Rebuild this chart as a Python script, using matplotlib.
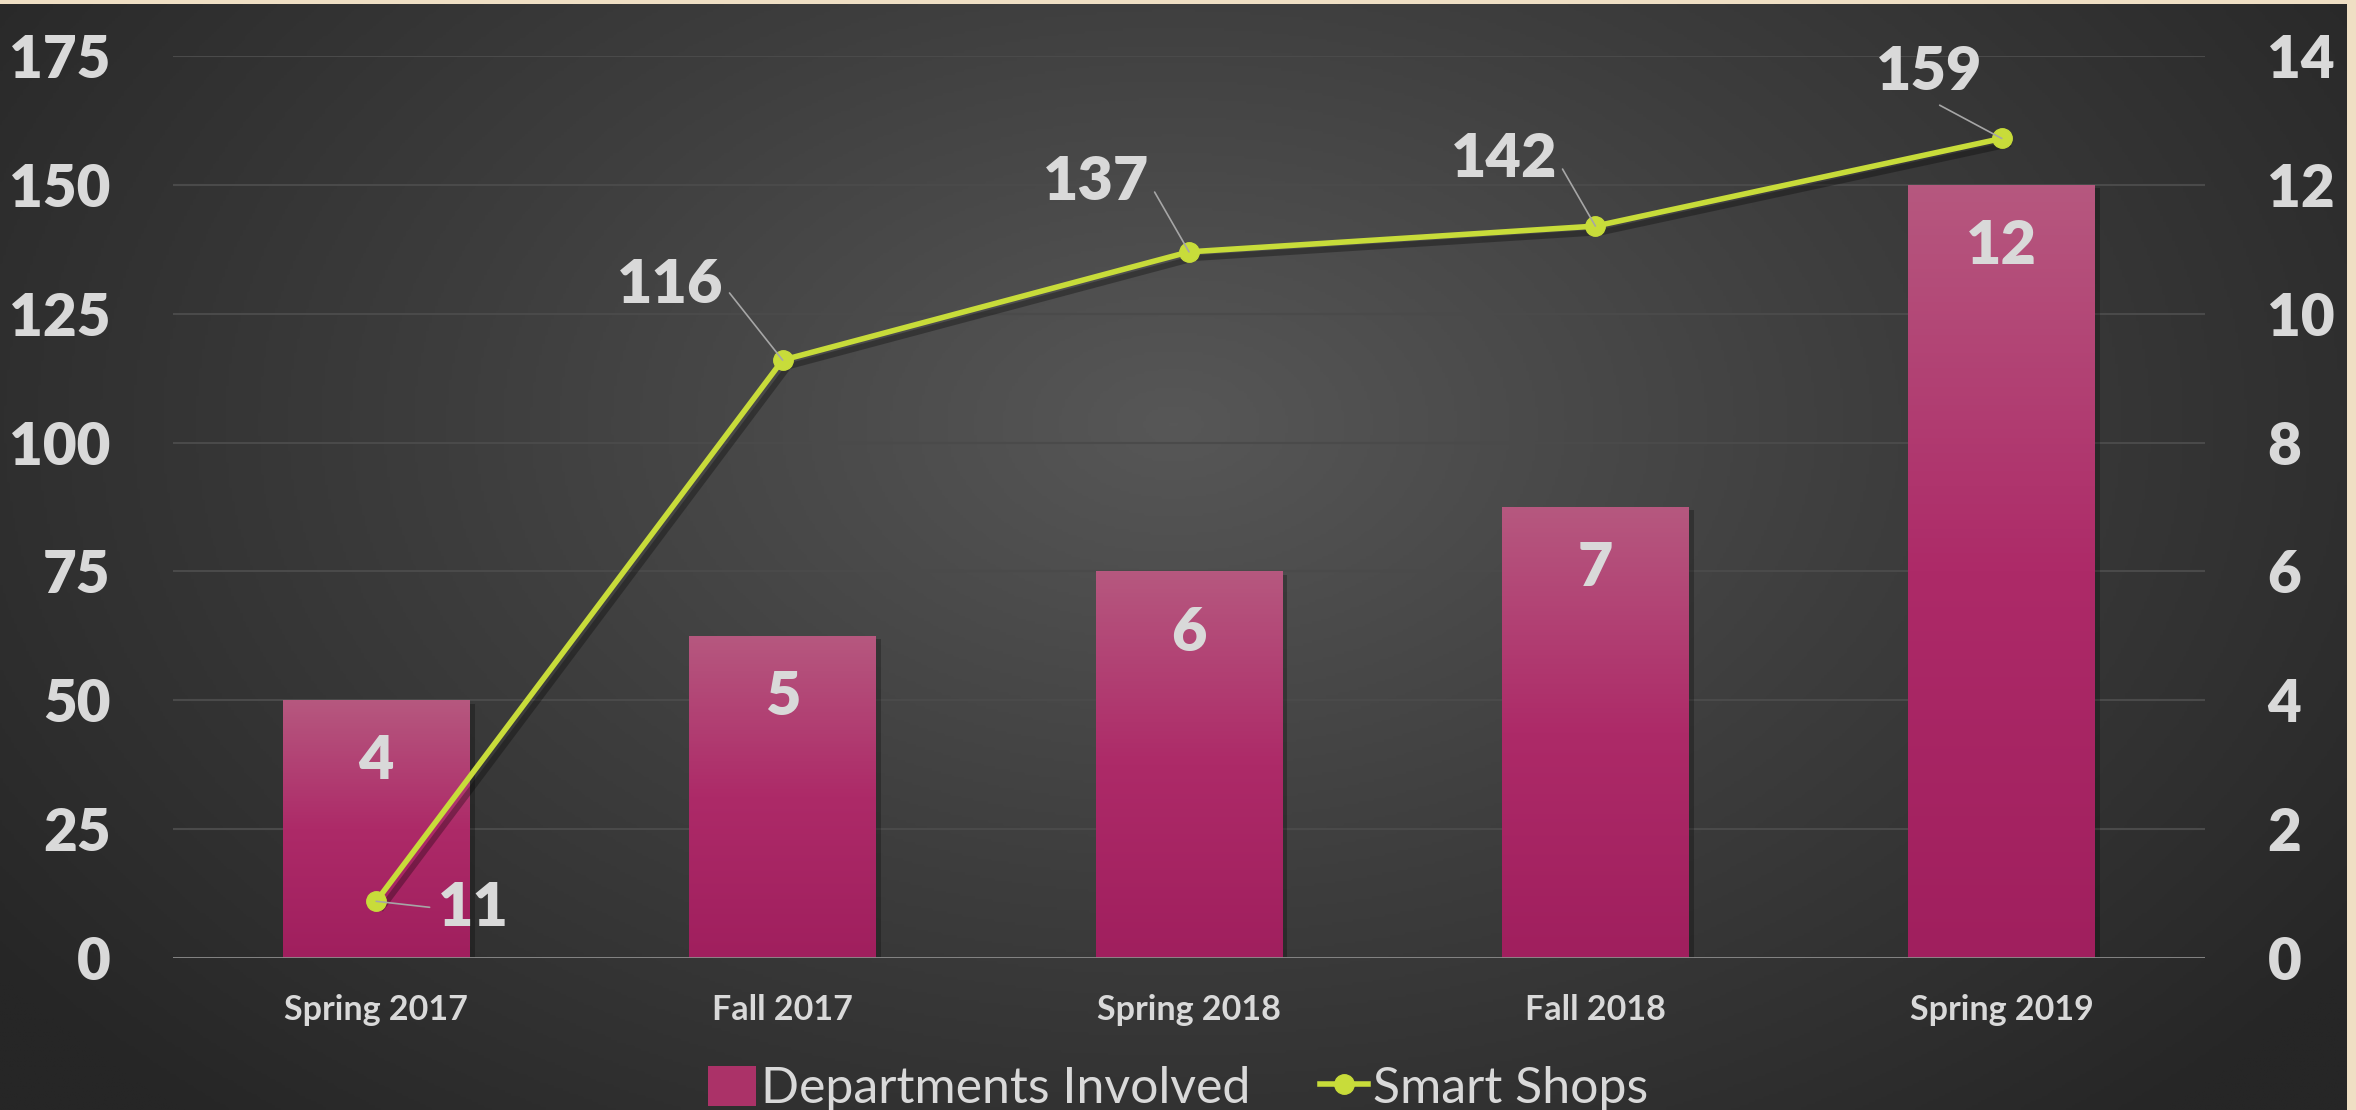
import numpy as np
import matplotlib
matplotlib.use("Agg")
import matplotlib.pyplot as plt
from matplotlib.patches import Rectangle
from matplotlib.colors import LinearSegmentedColormap

plt.rcParams['font.family'] = ['Lato', 'DejaVu Sans']

categories = ["Spring 2017", "Fall 2017", "Spring 2018", "Fall 2018", "Spring 2019"]
departments = [4, 5, 6, 7, 12]
smart_shops = [11, 116, 137, 142, 159]
left_ticks = [0, 25, 50, 75, 100, 125, 150, 175]
right_ticks = [0, 2, 4, 6, 8, 10, 12, 14]

W, H = 2356, 1110
fig = plt.figure(figsize=(W / 100, H / 100), dpi=100, facecolor="#efdfc4")

# background with radial gradient
bg = fig.add_axes([0, 0, 2347 / W, 1106 / H], zorder=-10)
bg.set_axis_off()
yy, xx = np.mgrid[0:1:400j, 0:1:800j]
r = np.sqrt(((xx - 0.5) / 0.62) ** 2 + ((yy - 0.62) / 0.85) ** 2)
r = np.clip(r, 0, 1)
cmap_bg = LinearSegmentedColormap.from_list("bg", ["#575757", "#3d3d3d", "#262626"])
bg.imshow(r, cmap=cmap_bg, aspect="auto", extent=[0, 1, 0, 1], origin="lower", vmin=0, vmax=1)
bg.set_xlim(0, 1); bg.set_ylim(0, 1)

ax = fig.add_axes([173 / W, (H - 958) / H, (2205 - 173) / W, (958 - 56) / H])
ax.patch.set_alpha(0)
x = np.arange(len(categories))
txt = "#d9d9d9"
heavy = "heavy"

# gridlines behind bars (right scale positions match left scale)
for t in right_ticks[1:]:
    ax.axhline(t, color="#4a4a4a", lw=1.5, zorder=0)

# bars on right scale
bar_w = 0.46
bars = ax.bar(x, departments, width=bar_w, color="#ab3268", zorder=3,
              label="Departments Involved")
grad_cmap = LinearSegmentedColormap.from_list("bar", ["#a01f5e", "#ad2a68", "#b6587f"])
grad = np.linspace(0, 1, 256).reshape(-1, 1)
for b in bars:
    x0, y0 = b.get_x(), b.get_y()
    w, h = b.get_width(), b.get_height()
    ax.add_patch(Rectangle((x0 + 0.012, y0), w, h - 0.05, color="black", alpha=0.25, zorder=2, lw=0))
    im = ax.imshow(grad, cmap=grad_cmap, aspect="auto", extent=[x0, x0 + w, y0, y0 + h],
                   origin="lower", zorder=3.5)
    im.set_clip_path(b)
    ax.annotate(str(int(h)), (x0 + w / 2, y0 + h), xytext=(0, -44), textcoords="offset points",
                ha="center", va="center", fontsize=44, fontweight=heavy, color=txt, zorder=5)

ax.axhline(0, color="#8c8c8c", lw=2, zorder=4)

# line on left scale
ax2 = ax.twinx()
ax2.set_ylim(0, 175)
ax2.set_yticks(left_ticks)
ax2.set_yticklabels([str(t) for t in left_ticks], fontsize=42, fontweight=heavy, color=txt)
ax2.yaxis.tick_left()
ax2.tick_params(axis="y", length=0, pad=45)
for s in ax2.spines.values():
    s.set_visible(False)

ax.set_xlim(-0.5, len(categories) - 0.5)
ax.set_ylim(0, 14)
ax.set_yticks(right_ticks)
ax.set_yticklabels([str(t) for t in right_ticks], fontsize=42, fontweight=heavy, color=txt)
ax.yaxis.tick_right()
ax.set_xticks(x)
ax.set_xticklabels(categories, fontsize=24.5, fontweight="bold", color=txt)
ax.tick_params(axis="x", length=0, pad=26)
ax.tick_params(axis="y", length=0, pad=45)
for s in ax.spines.values():
    s.set_visible(False)

ax2.plot(x + 0.015, np.array(smart_shops) - 1.2, color="black", alpha=0.3, lw=4.2, zorder=3)
ax2.plot(x, smart_shops, color="#c8dc3a", lw=4, marker="o", markersize=14,
         markerfacecolor="#c8dc3a", markeredgecolor="#c8dc3a", zorder=4, label="Smart Shops")

offsets = [(70, -5), (-81, 54), (-67, 50), (-66, 48), (-52, 48)]
rel = [(0, 0.5), (1, 0.5), (1, 0.5), (1, 0.5), (0.5, 0)]
for i, (v, off) in enumerate(zip(smart_shops, offsets)):
    ax2.annotate(str(v), (x[i], v), xytext=off, textcoords="offset points",
                 ha="center", va="center", fontsize=44, fontweight=heavy, color=txt, zorder=6,
                 arrowprops=dict(arrowstyle="-", color="#a6a6a6", lw=1.2, shrinkA=4, shrinkB=0,
                                 relpos=rel[i]))

h1, l1 = ax.get_legend_handles_labels()
h2, l2 = ax2.get_legend_handles_labels()
leg = fig.legend(h1 + h2, l1 + l2, loc="center", bbox_to_anchor=(0.5, 0.019), ncol=2,
                 frameon=False, fontsize=36, handlelength=0.95, handleheight=0.85,
                 handletextpad=0.1, columnspacing=1.4, labelcolor=txt)

fig.savefig("out.png", dpi=100, facecolor=fig.get_facecolor())
